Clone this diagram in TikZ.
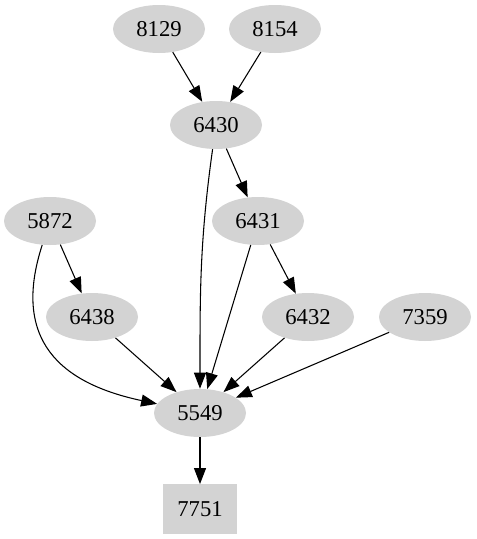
\documentclass[tikz,border=0pt]{standalone}
\usepackage{fontspec}
\setmainfont{Liberation Serif}
\usetikzlibrary{arrows.meta,shapes,positioning}
\definecolor{gvgray}{HTML}{D3D3D3}

\begin{document}
\begin{tikzpicture}[
            x=0.75pt, y=-0.75pt,
            every node/.style={ fill=gvgray, font=\fontsize{17}{18}\selectfont },
            job/.style={ ellipse, minimum width=69pt, minimum height=36pt, inner sep=0pt },
            sink/.style={ rectangle, minimum width=55pt, minimum height=37pt },
            dep/.style={ -{Triangle[length=12pt,width=9pt]}, line width=0.8pt }
        ]
        \useasboundingbox (0,0) rectangle (476,539);

        \node[job] (n8129) at (159,29) {8129};
        \node[job] (n8154) at (275,29) {8154};
        \node[job] (n6430) at (216,125) {6430};
        \node[job] (n5872) at (50,221) {5872};
        \node[job] (n6431) at (258,221) {6431};
        \node[job] (n6438) at (92,317) {6438};
        \node[job] (n6432) at (308,317) {6432};
        \node[job] (n7359) at (425,317) {7359};
        \node[job] (n5549) at (200,413) {5549};
        \node[sink] (n7751) at (200,509) {7751};

        \draw[dep] (n8129) -- (n6430);
        \draw[dep] (n8154) -- (n6430);
        \draw[dep] (n6430) -- (n6431);
        \draw[dep] (n6430) to[out=-98,in=90] (n5549);
        \draw[dep] (n5872) -- (n6438);
        \draw[dep] (n5872) to[out=-108,in=168,looseness=1.3] (n5549);
        \draw[dep] (n6431) -- (n6432);
        \draw[dep] (n6431) -- (n5549);
        \draw[dep] (n6438) -- (n5549);
        \draw[dep] (n6432) -- (n5549);
        \draw[dep] (n7359) -- (n5549);
        \draw[dep] (n5549) -- (n7751);
    \end{tikzpicture}
\end{document}
